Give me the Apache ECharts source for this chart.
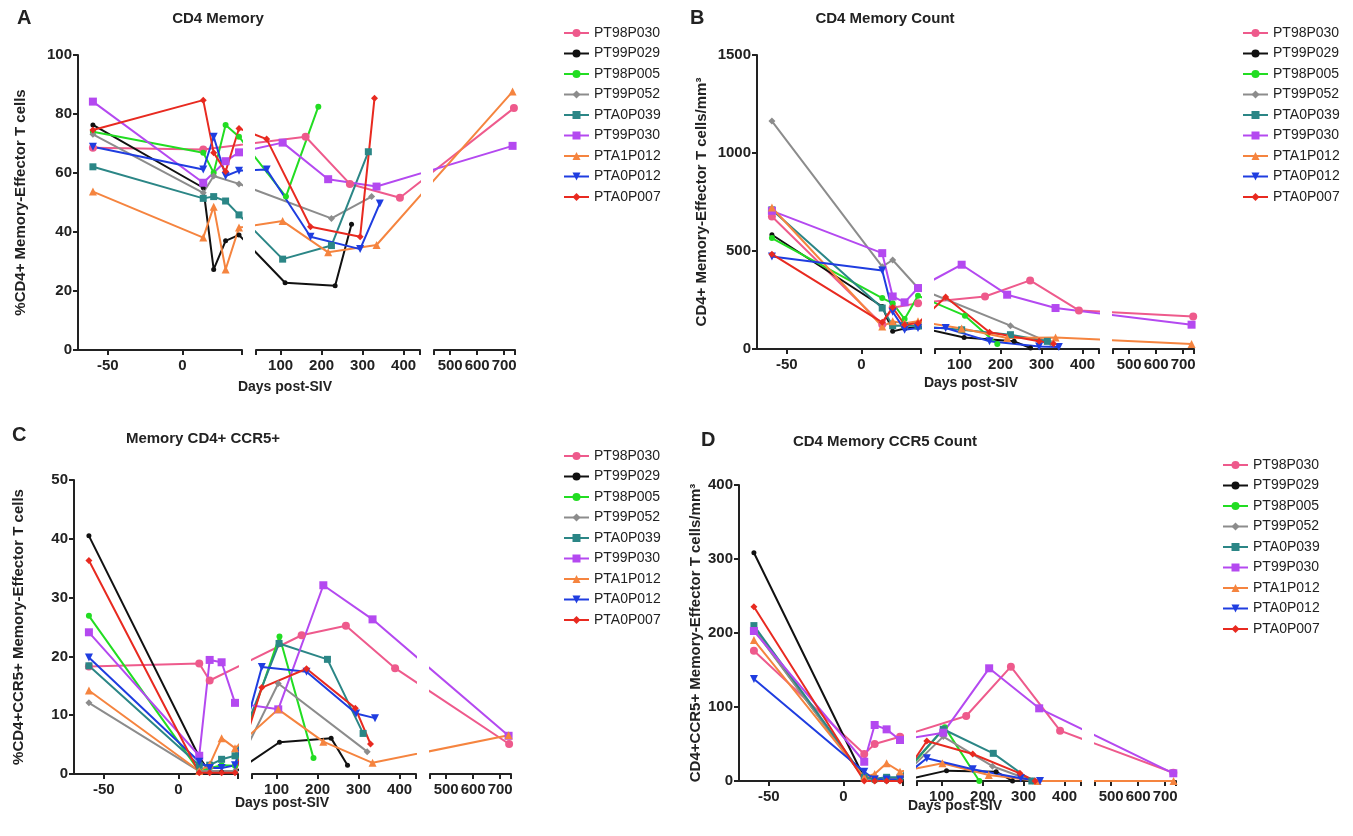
<!DOCTYPE html>
<html>
<head>
<meta charset="utf-8">
<script src="https://cdn.jsdelivr.net/npm/echarts@6/dist/echarts.min.js"></script>
<style>
  html, body { margin: 0; padding: 0; background: #fff; }
  #chart { width: 1353px; height: 836px; }
</style>
</head>
<body>
<div id="chart"></div>
<script>
(function () {
    'use strict';

    var patients = ['PT98P030', 'PT99P029', 'PT98P005', 'PT99P052', 'PTA0P039',
        'PT99P030', 'PTA1P012', 'PTA0P012', 'PTA0P007'];

    // broken x axis: day range of each piece and the labelled days
    var segDays = [[-70, 40], [40, 440], [440, 740]];
    var labelDays = [[-50, 0], [100, 200, 300, 400], [500, 600, 700]];

    // [day, value] per patient, same order as patients
    var memPct = [
        [[-60, 68.6], [14, 68], [161, 72.3], [269, 56.3], [391, 51.6], [736, 82]],
        [[-60, 76.3], [14, 55], [21, 27.3], [29, 37], [38, 39], [111, 22.8], [233, 21.8], [273, 42.6]],
        [[-60, 74], [14, 66.9], [21, 60.1], [29, 76.3], [38, 72.3], [113, 52], [192, 82.5]],
        [[-60, 73.1], [14, 53.3], [21, 59], [38, 56.3], [224, 44.6], [322, 52]],
        [[-60, 62.1], [14, 51.4], [21, 52], [29, 50.5], [38, 45.8], [105, 30.8], [224, 35.4], [314, 67.2]],
        [[-60, 84.2], [14, 56.7], [29, 64], [38, 67], [105, 70.3], [216, 57.9], [334, 55.4], [731, 69.2]],
        [[-60, 53.7], [14, 38.1], [21, 48.6], [29, 27.3], [38, 41.5], [105, 43.7], [216, 33.1], [334, 35.6], [731, 87.6]],
        [[-60, 68.9], [14, 61.2], [21, 72.3], [29, 59], [38, 60.8], [66, 61.2], [173, 38.4], [294, 34.2], [342, 49.7]],
        [[-60, 74.6], [14, 84.7], [21, 66.9], [29, 60.5], [38, 75.1], [66, 71.5], [173, 41.8], [294, 38.4], [329, 85.3]]
    ];
    var memCount = [
        [[-60, 676], [14, 125], [21, 210], [38, 234], [162, 268], [272, 350], [391, 197], [737, 166]],
        [[-60, 583], [14, 217], [21, 90], [29, 105], [38, 111], [111, 59], [233, 39], [273, 5]],
        [[-60, 566], [14, 260], [21, 234], [29, 153], [38, 272], [113, 170], [192, 25]],
        [[-60, 1163], [14, 420], [21, 454], [38, 311], [224, 119], [322, 30]],
        [[-60, 710], [14, 209], [21, 119], [29, 120], [38, 117], [105, 98], [224, 73], [314, 39]],
        [[-60, 705], [14, 489], [21, 268], [29, 238], [38, 311], [105, 430], [216, 277], [334, 209], [731, 124]],
        [[-60, 722], [14, 115], [21, 141], [29, 131], [38, 141], [105, 105], [216, 56], [334, 59], [731, 25]],
        [[-60, 472], [14, 401], [21, 190], [29, 98], [38, 107], [66, 107], [173, 39], [294, 13], [342, 10]],
        [[-60, 484], [14, 136], [21, 212], [29, 124], [38, 132], [66, 265], [173, 85], [294, 39], [329, 27]]
    ];
    var ccr5Pct = [
        [[-60, 18.3], [14, 18.8], [21, 15.9], [161, 23.6], [269, 25.2], [389, 18], [733, 5.1]],
        [[-60, 40.5], [14, 2.9], [21, 0.3], [29, 0.3], [38, 0.3], [107, 5.4], [233, 6.1], [273, 1.5]],
        [[-60, 26.9], [14, 0.5], [21, 1], [29, 1.5], [38, 1.4], [107, 23.4], [190, 2.7]],
        [[-60, 12.1], [14, 0.5], [21, 0.5], [38, 0.5], [104, 15.4], [321, 3.8]],
        [[-60, 18.4], [14, 1.5], [21, 1.5], [29, 2.5], [38, 3.1], [106, 22.2], [224, 19.5], [311, 6.9]],
        [[-60, 24.1], [14, 3.1], [21, 19.4], [29, 19], [38, 12.1], [104, 11], [214, 32.1], [334, 26.3], [731, 6.5]],
        [[-60, 14.2], [14, 0.5], [21, 1.6], [29, 6.1], [38, 4.4], [104, 11], [214, 5.5], [334, 1.9], [731, 6.6]],
        [[-60, 19.8], [14, 2.1], [21, 1], [29, 1], [38, 1.5], [64, 18.2], [173, 17.4], [294, 10.3], [340, 9.5]],
        [[-60, 36.3], [14, 0.2], [21, 0.2], [29, 0.2], [38, 0.2], [64, 14.7], [173, 17.9], [292, 11.2], [329, 5.1]]
    ];
    var ccr5Count = [
        [[-60, 176], [14, 36.5], [21, 50], [38, 59.9], [160, 87.8], [269, 154.5], [389, 68], [730, 11.2]],
        [[-60, 308.5], [14, 4], [21, 0], [29, 0], [38, 0], [112, 14], [233, 12.6], [273, 0]],
        [[-60, 206], [14, 3], [21, 1], [29, 2], [38, 3], [108, 72.5], [192, 0]],
        [[-60, 205], [14, 3], [21, 2], [38, 3], [104, 60], [224, 20], [322, 0]],
        [[-60, 210], [14, 5], [21, 3], [29, 5], [38, 5], [104, 69.9], [226, 37.4], [320, 0]],
        [[-60, 202.7], [14, 26], [21, 75.7], [29, 69.8], [38, 55.4], [104, 65.3], [216, 152.3], [338, 98.2], [730, 10.4]],
        [[-60, 190.5], [14, 5], [21, 9.5], [29, 24], [38, 12.6], [102, 23.9], [215, 8.1], [334, 0], [731, 0]],
        [[-60, 137.8], [14, 12.6], [21, 2], [29, 2], [38, 2], [64, 30.7], [176, 15.8], [293, 3.6], [340, 0]],
        [[-60, 235.5], [14, 0], [21, 0], [29, 0], [38, 0], [64, 54], [176, 36.5], [291, 10.4], [328, 0]]
    ];

    var colors = ['#ee5a8c', '#111111', '#22dd22', '#8c8c8c', '#2b8686',
        '#b449f0', '#f5843f', '#1f3de0', '#e82a20'];
    var symbols = ['circle', 'circle', 'circle', 'diamond', 'rect', 'rect',
        'triangle', 'path://M0,0L10,0L5,9Z', 'diamond'];
    var symbolSizes = [8, 5, 6, 7, 7, 8, 8, 8, 7];

    var FONT = '"Liberation Sans", Arial, sans-serif';
    var INK = '#222';
    var segWidth = [164, 164, 81];
    var segGap = 14;

    var panels = [
        {data: memPct, left: 78, top: 55, bottom: 350, yMax: 100, yStep: 20, nameGap: 50,
            yName: '%CD4+ Memory-Effector T cells', legendLeft: 558, legendTop: 21},
        {data: memCount, left: 757, top: 55, bottom: 349, yMax: 1500, yStep: 500, nameGap: 48,
            yName: 'CD4+ Memory-Effector T cells/mm³', legendLeft: 1237, legendTop: 21},
        {data: ccr5Pct, left: 74, top: 480, bottom: 774, yMax: 50, yStep: 10, nameGap: 48,
            yName: '%CD4+CCR5+ Memory-Effector T cells', legendLeft: 558, legendTop: 444},
        {data: ccr5Count, left: 739, top: 485, bottom: 781, yMax: 400, yStep: 100, nameGap: 36,
            yName: 'CD4+CCR5+ Memory-Effector T cells/mm³', legendLeft: 1217, legendTop: 453}
    ];

    function segOffset(s) {
        var off = 0;
        for (var i = 0; i < s; i++) {
            off += segWidth[i] + segGap;
        }
        return off;
    }

    // day -> position along the broken axis (pixels from the y axis)
    function toV(d) {
        for (var i = 0; i < segDays.length; i++) {
            var r = segDays[i];
            if (d <= r[1] || i === segDays.length - 1) {
                return segOffset(i) + (d - r[0]) * segWidth[i] / (r[1] - r[0]);
            }
        }
    }

    function fromV(v) {
        for (var i = segDays.length - 1; i >= 0; i--) {
            var off = segOffset(i);
            if (v >= off - 0.5) {
                var r = segDays[i];
                return r[0] + (v - off) * (r[1] - r[0]) / segWidth[i];
            }
        }
    }

    var grids = [], xAxes = [], yAxes = [], series = [], legends = [];

    panels.forEach(function (p) {
        for (var s = 0; s < segDays.length; s++) {
            var g = grids.length;
            var off = segOffset(s);
            grids.push({left: p.left + off, top: p.top, width: segWidth[s], height: p.bottom - p.top});
            var ticks = [off + segWidth[s]];
            if (s > 0) ticks.unshift(off);
            var labels = labelDays[s].map(toV);
            xAxes.push({
                gridIndex: g, type: 'value', min: off, max: off + segWidth[s],
                axisLine: {show: true, lineStyle: {color: INK, width: 2}},
                axisTick: {show: true, length: 5, customValues: labels.concat(ticks),
                    lineStyle: {color: INK, width: 2}},
                axisLabel: {customValues: labels, margin: 8, color: INK, fontFamily: FONT,
                    fontWeight: 'bold', fontSize: 15,
                    formatter: function (v) { return String(Math.round(fromV(v) / 10) * 10); }},
                splitLine: {show: false}
            });
            yAxes.push({
                gridIndex: g, type: 'value', min: 0, max: p.yMax, interval: p.yStep,
                show: s === 0,
                name: s === 0 ? p.yName : '', nameLocation: 'middle', nameGap: p.nameGap,
                nameTextStyle: {color: INK, fontFamily: FONT, fontWeight: 'bold', fontSize: 15},
                axisLine: {show: true, lineStyle: {color: INK, width: 2}},
                axisTick: {show: true, length: 5, lineStyle: {color: INK, width: 2}},
                axisLabel: {color: INK, fontFamily: FONT, fontWeight: 'bold', fontSize: 15, margin: 6,
                    formatter: function (v) { return String(v); }},
                splitLine: {show: false}
            });
            patients.forEach(function (name, i) {
                series.push({
                    type: 'line', name: name, xAxisIndex: g, yAxisIndex: g,
                    data: p.data[i].map(function (pt) { return [toV(pt[0]), pt[1]]; }),
                    symbol: symbols[i], symbolSize: symbolSizes[i],
                    color: colors[i], lineStyle: {width: 2},
                    clip: true, silent: true
                });
            });
        }
        legends.push({
            orient: 'vertical', left: p.legendLeft, top: p.legendTop,
            data: patients, itemWidth: 25, itemHeight: 10, itemGap: 6.5,
            selectedMode: false,
            textStyle: {color: INK, fontFamily: FONT, fontSize: 14, lineHeight: 14}
        });
    });

    function text(str, x, y, size, align) {
        return {
            text: str, left: x, top: y, textAlign: align || 'center',
            textStyle: {color: INK, fontFamily: FONT, fontWeight: 'bold', fontSize: size}
        };
    }

    var titles = [
        text('A', 12, 3, 20, 'left'), text('B', 685, 3, 20, 'left'),
        text('C', 7, 420, 20, 'left'), text('D', 696, 425, 20, 'left'),
        text('CD4 Memory', 213, 6, 15), text('CD4 Memory Count', 880, 6, 15),
        text('Memory CD4+ CCR5+', 198, 426, 15), text('CD4 Memory CCR5 Count', 880, 429, 15),
        text('Days post-SIV', 280, 375, 14), text('Days post-SIV', 966, 371, 14),
        text('Days post-SIV', 277, 791, 14), text('Days post-SIV', 950, 794, 14)
    ];

    var chart = echarts.init(document.getElementById('chart'));
    chart.setOption({
        animation: false,
        backgroundColor: '#fff',
        title: titles,
        legend: legends,
        grid: grids,
        xAxis: xAxes,
        yAxis: yAxes,
        series: series
    });
})();
</script>
</body>
</html>
